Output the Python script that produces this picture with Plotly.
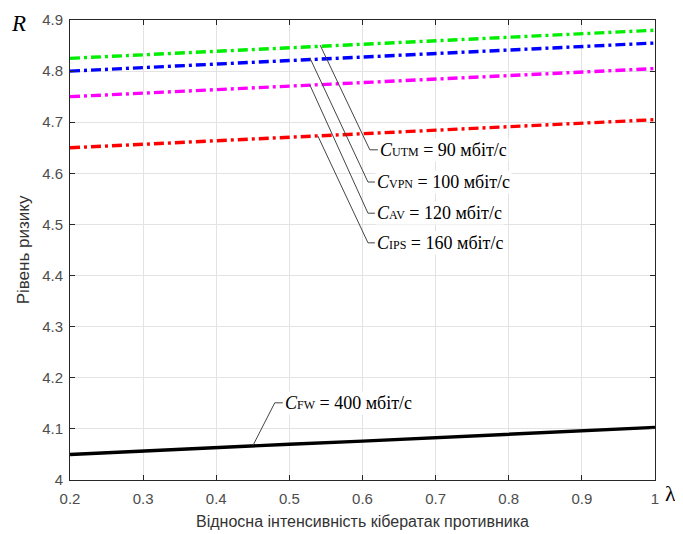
import plotly.graph_objects as go

lam = [0.2, 0.3, 0.4, 0.5, 0.6, 0.7, 0.8, 0.9, 1.0]
r_utm = [4.825, 4.832, 4.839, 4.846, 4.853, 4.859, 4.866, 4.873, 4.880]
r_vpn = [4.800, 4.807, 4.814, 4.821, 4.828, 4.834, 4.841, 4.848, 4.855]
r_av = [4.750, 4.757, 4.764, 4.771, 4.778, 4.784, 4.791, 4.798, 4.805]
r_ips = [4.650, 4.657, 4.664, 4.671, 4.678, 4.684, 4.691, 4.698, 4.705]
r_fw = [4.050, 4.057, 4.063, 4.070, 4.076, 4.083, 4.090, 4.096, 4.103]

x_ticks = [0.2, 0.3, 0.4, 0.5, 0.6, 0.7, 0.8, 0.9, 1]
x_ticktext = ["0.2", "0.3", "0.4", "0.5", "0.6", "0.7", "0.8", "0.9", "1"]
y_ticks = [4.0, 4.1, 4.2, 4.3, 4.4, 4.5, 4.6, 4.7, 4.8, 4.9]
y_ticktext = ["4", "4.1", "4.2", "4.3", "4.4", "4.5", "4.6", "4.7", "4.8", "4.9"]

series = [
    (r_utm, "#00ee00", "C<sub>UTM</sub>"),
    (r_vpn, "#0000ff", "C<sub>VPN</sub>"),
    (r_av, "#ff00ff", "C<sub>AV</sub>"),
    (r_ips, "#ff0000", "C<sub>IPS</sub>"),
]

SERIF = "Liberation Serif, Times New Roman, serif"
SANS = "Liberation Sans, Arial, sans-serif"

fig = go.Figure()
for vals, col, name in series:
    fig.add_trace(go.Scatter(x=lam, y=vals, mode="lines", name=name,
                             line=dict(color=col, width=3.4, dash="10px,4px,3px,4px")))
fig.add_trace(go.Scatter(x=lam, y=r_fw, mode="lines", name="C<sub>FW</sub>",
                         line=dict(color="black", width=3.4)))

# leader lines (start on curve, bend, end) and labels
labels = [
    ((0.542, 4.851), (0.610, 4.646), 0.621, "90"),
    ((0.528, 4.826), (0.6075, 4.583), 0.617, "100"),
    ((0.528, 4.773), (0.6075, 4.522), 0.617, "120"),
    ((0.539, 4.673), (0.6075, 4.464), 0.617, "160"),
    ((0.450, 4.067), (0.480, 4.151), 0.491, "400"),
]
subs = ["UTM", "VPN", "AV", "IPS", "FW"]
for (p0, p1, xend, val), sub in zip(labels, subs):
    fig.add_shape(type="path",
                  path=f"M {p0[0]},{p0[1]} L {p1[0]},{p1[1]} L {xend},{p1[1]}",
                  line=dict(color="#444444", width=1), xref="x", yref="y")
    fig.add_annotation(x=xend, y=p1[1], xanchor="left", yanchor="middle",
                       showarrow=False, bgcolor="white", borderpad=1,
                       text=f"<i>C</i><span style='font-size:12px'>{sub}</span> = {val} мбіт/с",
                       font=dict(family=SERIF, size=18, color="black"))

fig.add_annotation(xref="paper", yref="paper", x=-0.088, y=0.992, xanchor="center", yanchor="middle",
                   showarrow=False, text="<i>R</i>",
                   font=dict(family=SERIF, size=23, color="black"))
fig.add_annotation(xref="paper", yref="paper", x=1.027, y=-0.03, xanchor="center", yanchor="middle",
                   showarrow=False, text="λ",
                   font=dict(family=SERIF, size=22, color="black"))

axis_common = dict(showline=True, mirror="ticks", linecolor="#262626", linewidth=1,
                   ticks="inside", ticklen=5, tickcolor="#262626",
                   showgrid=True, gridcolor="#e3e3e3", gridwidth=1, zeroline=False,
                   tickfont=dict(family=SANS, size=15, color="#4d4d4d"))

# page body has an 8px margin; size the figure so the plot lands where the reference has it
fig.update_layout(
    width=675, height=526,
    margin=dict(l=62, r=28, t=12, b=54, autoexpand=False),
    paper_bgcolor="white", plot_bgcolor="white",
    showlegend=False,
    xaxis=dict(range=[0.2, 1.0], tickvals=x_ticks, ticktext=x_ticktext, ticklabelstandoff=5,
               title=dict(text="Відносна інтенсивність кібератак противника", standoff=9,
                          font=dict(family=SANS, size=16, color="#333333")),
               **axis_common),
    yaxis=dict(range=[4.0, 4.9], tickvals=y_ticks, ticktext=y_ticktext, ticklabelstandoff=3,
               title=dict(text="Рівень ризику", standoff=8,
                          font=dict(family=SANS, size=17, color="#333333")),
               **axis_common),
)

fig.write_html("out.html")
